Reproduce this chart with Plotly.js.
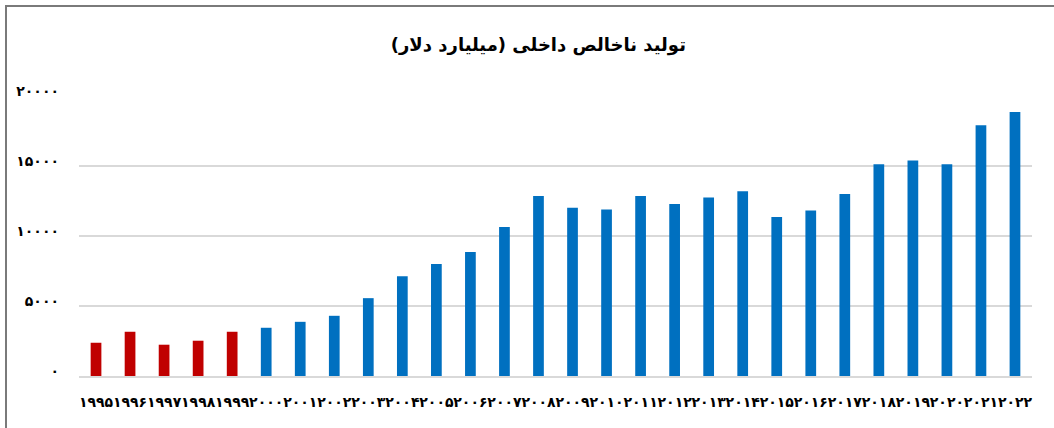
<!DOCTYPE html>
<html>
<head>
<meta charset="utf-8">
<script src="https://cdn.plot.ly/plotly-3.0.1.min.js"></script>
<style>
html,body{margin:0;padding:0;background:#fff;}
#wrap{position:relative;width:1054px;height:428px;overflow:hidden;}
#chart{position:absolute;left:0;top:0;width:1054px;height:428px;}
#frame{position:absolute;left:5px;top:5px;width:1060px;height:421px;border-top:2px solid #7a7a7a;border-left:2px solid #7a7a7a;border-bottom:1px solid #cfcfcf;pointer-events:none;}
</style>
</head>
<body>
<div id="wrap"><div id="chart"></div><div id="frame"></div></div>
<script>
// Data
const years = ["۱۹۹۵","۱۹۹۶","۱۹۹۷","۱۹۹۸","۱۹۹۹","۲۰۰۰","۲۰۰۱","۲۰۰۲","۲۰۰۳","۲۰۰۴","۲۰۰۵","۲۰۰۶","۲۰۰۷","۲۰۰۸","۲۰۰۹","۲۰۱۰","۲۰۱۱","۲۰۱۲","۲۰۱۳","۲۰۱۴","۲۰۱۵","۲۰۱۶","۲۰۱۷","۲۰۱۸","۲۰۱۹","۲۰۲۰","۲۰۲۱","۲۰۲۲"];
const gdp = [2375,3160,2235,2520,3160,3445,3870,4300,5560,7125,8005,8860,10640,12850,12020,11900,12850,12280,12755,13205,11355,11830,12995,15130,15390,15130,17910,18860];
const highlightedYears = ["۱۹۹۵","۱۹۹۶","۱۹۹۷","۱۹۹۸","۱۹۹۹"];
const yTickValues = [0,5000,10000,15000,20000];
const yTickLabels = ["۰","۵۰۰۰","۱۰۰۰۰","۱۵۰۰۰","۲۰۰۰۰"];
const chartTitle = "تولید ناخالص داخلی (میلیارد دلار)";

const RED = "#C00000", BLUE = "#0070C0";
const colors = years.map(y => highlightedYears.includes(y) ? RED : BLUE);

const trace = {
  type: "bar",
  x: years,
  y: gdp,
  marker: {color: colors, line: {width: 0}},
  hoverinfo: "x+y"
};

const layout = {
  width: 1054, height: 428,
  margin: {l: 79, r: 22, t: 96, b: 52},
  paper_bgcolor: "rgba(0,0,0,0)",
  plot_bgcolor: "#fff",
  bargap: 0.685,
  showlegend: false,
  title: {
    text: "<b>" + chartTitle + "</b>",
    font: {family: "DejaVu Sans, sans-serif", size: 18, color: "#000"},
    x: 0.482, xref: "paper", xanchor: "center",
    y: 0.895, yref: "container", yanchor: "middle"
  },
  xaxis: {
    type: "category",
    showgrid: false,
    showline: true, linecolor: "#d9d9d9", linewidth: 1.5,
    ticks: "",
    tickangle: 0,
    tickfont: {family: "DejaVu Sans, sans-serif", size: 14, color: "#000", weight: "bold"},
    ticklabelstandoff: 13,
    fixedrange: true
  },
  yaxis: {
    range: [0, 20000],
    tickvals: yTickValues,
    ticktext: yTickLabels,
    showgrid: true, gridcolor: "#d9d9d9", gridwidth: 1.5,
    zeroline: false,
    showline: false,
    ticks: "",
    tickfont: {family: "DejaVu Sans, sans-serif", size: 14, color: "#000", weight: "bold"},
    ticklabelstandoff: 19,
    ticklabelshift: -5,
    fixedrange: true
  }
};

Plotly.newPlot("chart", [trace], layout, {displayModeBar: false, staticPlot: true});
</script>
</body>
</html>
